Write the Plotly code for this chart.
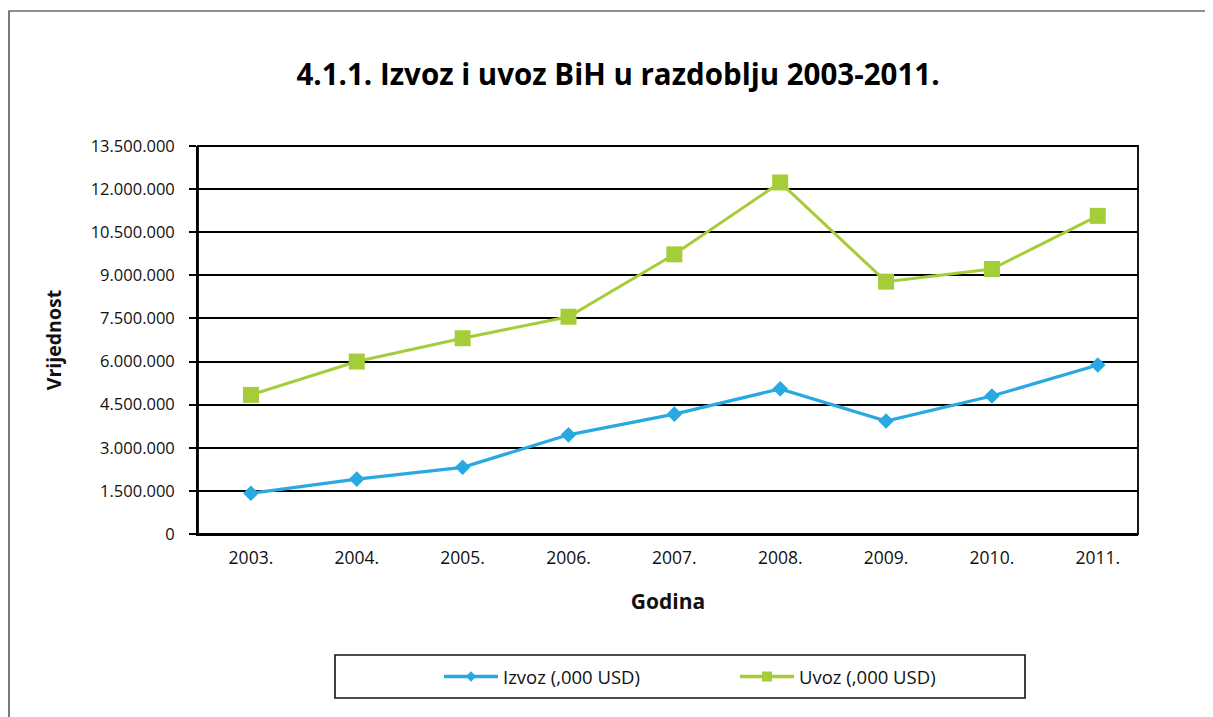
import plotly.graph_objects as go

years = ["2003.", "2004.", "2005.", "2006.", "2007.", "2008.", "2009.", "2010.", "2011."]
izvoz = [1420000, 1910000, 2320000, 3450000, 4170000, 5050000, 3930000, 4800000, 5880000]
uvoz = [4840000, 6000000, 6810000, 7560000, 9730000, 12230000, 8780000, 9220000, 11070000]
y_ticks = [0, 1500000, 3000000, 4500000, 6000000, 7500000, 9000000, 10500000, 12000000, 13500000]
y_tick_labels = ["0", "1.500.000", "3.000.000", "4.500.000", "6.000.000", "7.500.000",
                 "9.000.000", "10.500.000", "12.000.000", "13.500.000"]
names = ["Izvoz (,000 USD)", "Uvoz (,000 USD)"]

BLUE = "#29A9E1"
GREEN = "#A5CD39"
FONT = "Open Sans"

OFF = 8  # page body margin
W, H = 1213 - OFF, 717 - OFF
# plot area in page coordinates
L, R, T, B = 198, 1138, 146, 534


def fx(x):
    return x - OFF


def fy(y):
    return y - OFF


pw, ph = R - L, B - T


def px(x):
    return (x - L) / pw


def py(y):
    return (B - y) / ph


fig = go.Figure()
fig.add_trace(go.Scatter(x=years, y=izvoz, mode="lines+markers", name=names[0], showlegend=False,
                         line=dict(color=BLUE, width=3.2),
                         marker=dict(symbol="diamond", size=12, color=BLUE)))
fig.add_trace(go.Scatter(x=years, y=uvoz, mode="lines+markers", name=names[1], showlegend=False,
                         line=dict(color=GREEN, width=3),
                         marker=dict(symbol="square", size=16, color=GREEN)))
# legend entries (smaller markers, as in the reference legend)
fig.add_trace(go.Scatter(x=[None], y=[None], mode="lines+markers", name=names[0],
                         line=dict(color=BLUE, width=3.5),
                         marker=dict(symbol="diamond", size=8, color=BLUE)))
fig.add_trace(go.Scatter(x=[None], y=[None], mode="lines+markers", name=names[1],
                         line=dict(color=GREEN, width=3.5),
                         marker=dict(symbol="square", size=10, color=GREEN)))

shapes = [
    dict(type="rect", xref="paper", yref="paper", x0=px(9), x1=px(1210), y0=py(760), y1=py(11),
         line=dict(color="#222", width=1.2), fillcolor="rgba(0,0,0,0)", layer="below"),
    dict(type="rect", xref="paper", yref="paper", x0=px(335), x1=px(1025), y0=py(698), y1=py(655),
         line=dict(color="#111", width=1.6), fillcolor="rgba(0,0,0,0)"),
    dict(type="rect", xref="paper", yref="paper", x0=0, x1=1, y0=0, y1=1,
         line=dict(color="#000", width=1.8), fillcolor="rgba(0,0,0,0)", layer="above"),
]

fig.update_layout(
    width=W, height=H,
    margin=dict(l=fx(L), r=1213 - R, t=fy(T), b=717 - B),
    paper_bgcolor="white", plot_bgcolor="white",
    font=dict(family=FONT, color="#111", size=16),
    title=dict(text="<b>4.1.1. Izvoz i uvoz BiH u razdoblju 2003-2011.</b>",
               x=fx(618) / W, xanchor="center", y=1 - fy(75) / H, yanchor="middle",
               font=dict(family=FONT, size=29.5, color="#000")),
    xaxis=dict(type="category", range=[-0.5, 8.38], showgrid=False, showline=True,
               linecolor="#000", linewidth=1.8,
               ticks="", tickfont=dict(size=17.5), ticklabelstandoff=7,
               title=dict(text="<b>Godina</b>", font=dict(size=21), standoff=26)),
    yaxis=dict(range=[0, 13500000], tickvals=y_ticks, ticktext=y_tick_labels,
               showgrid=True, gridcolor="#000", gridwidth=1.7,
               showline=True, linecolor="#000", linewidth=1.8,
               ticks="outside", ticklen=7, tickcolor="#000", tickwidth=1.6,
               tickfont=dict(size=16.5), zeroline=False, ticklabelstandoff=11,
               title=dict(text="<b>Vrijednost</b>", font=dict(size=19.5), standoff=24)),
    showlegend=True,
    legend=dict(orientation="h", x=px(439), xanchor="left", y=py(677), yanchor="middle",
                bgcolor="rgba(0,0,0,0)", borderwidth=0, font=dict(size=18.5),
                entrywidth=227, itemwidth=54),
    shapes=shapes,
)

fig.write_html("out.html")
